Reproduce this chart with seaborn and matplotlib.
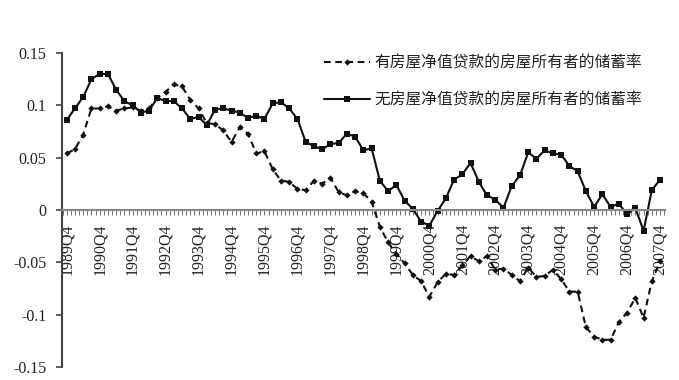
import numpy as np
import pandas as pd
import matplotlib
matplotlib.use("Agg")
import matplotlib.pyplot as plt
from matplotlib.lines import Line2D
import seaborn as sns

# ---------------- data ----------------
years = list(range(1989, 2008))
quarters = []
for y in years:
    for q in (1, 2, 3, 4):
        if y == 1989 and q < 4:
            continue
        quarters.append(f"{y}Q{q}")
quarters = quarters[:73]

tick_labels = [f"{y}Q4" for y in years]

with_heloc = [
    0.054, 0.058, 0.072, 0.097, 0.097, 0.099, 0.095, 0.097, 0.098, 0.095,
    0.097, 0.107, 0.113, 0.120, 0.118, 0.105, 0.097, 0.083, 0.082, 0.076,
    0.065, 0.079, 0.073, 0.054, 0.056, 0.039, 0.028, 0.027, 0.020, 0.019,
    0.028, 0.025, 0.031, 0.017, 0.014, 0.018, 0.016, 0.008, -0.016, -0.031,
    -0.042, -0.051, -0.062, -0.068, -0.083, -0.069, -0.061, -0.062, -0.053, -0.044,
    -0.049, -0.044, -0.057, -0.056, -0.062, -0.068, -0.055, -0.064, -0.063, -0.057,
    -0.066, -0.078, -0.078, -0.112, -0.121, -0.124, -0.124, -0.107, -0.098, -0.084,
    -0.103, -0.068, -0.049,
]

without_heloc = [
    0.086, 0.097, 0.108, 0.125, 0.130, 0.130, 0.115, 0.104, 0.100, 0.093,
    0.095, 0.107, 0.104, 0.104, 0.097, 0.087, 0.089, 0.081, 0.096, 0.097,
    0.095, 0.093, 0.088, 0.090, 0.087, 0.102, 0.103, 0.097, 0.087, 0.065,
    0.061, 0.058, 0.063, 0.064, 0.073, 0.070, 0.057, 0.059, 0.028, 0.018,
    0.024, 0.009, 0.001, -0.011, -0.015, -0.001, 0.011, 0.029, 0.034, 0.045,
    0.027, 0.014, 0.010, 0.002, 0.023, 0.033, 0.055, 0.049, 0.057, 0.054,
    0.053, 0.042, 0.037, 0.018, 0.003, 0.015, 0.003, 0.006, -0.004, 0.002,
    -0.020, 0.019, 0.029,
]

label_with = "有房屋净值贷款的房屋所有者的储蓄率"
label_without = "无房屋净值贷款的房屋所有者的储蓄率"
y_ticks = [0.15, 0.1, 0.05, 0, -0.05, -0.1, -0.15]
y_tick_labels = ["0.15", "0.1", "0.05", "0", "-0.05", "-0.1", "-0.15"]

# ---------------- plot ----------------
sns.set_style("white")
plt.rcParams["font.family"] = ["Liberation Serif", "DejaVu Serif"]

W, H = 679, 380
fig = plt.figure(figsize=(W / 100, H / 100), dpi=100)
ax_left, ax_right = 62, 665
ax_top, ax_bottom = 53, 367
ax = fig.add_axes([ax_left / W, 1 - ax_bottom / H, (ax_right - ax_left) / W, (ax_bottom - ax_top) / H])

df = pd.DataFrame({
    "idx": np.arange(len(quarters)),
    "quarter": quarters,
    "with": with_heloc,
    "without": without_heloc,
})

sns.lineplot(data=df, x="idx", y="with", ax=ax, color="#111111", linewidth=1.5,
             linestyle=(0, (3.2, 2.2)), marker="D", markersize=3.2,
             markeredgewidth=0, sort=False, legend=False)
sns.lineplot(data=df, x="idx", y="without", ax=ax, color="#111111", linewidth=1.5,
             marker="s", markersize=4.6, markeredgewidth=0, sort=False, legend=False)

ax.set_ylim(-0.15, 0.15)
ax.set_xlim(-0.57, 72.6)
ax.set_xlabel("")
ax.set_ylabel("")

# spines first (set_position resets ticks)
for s in ("top", "right"):
    ax.spines[s].set_visible(False)
ax.spines["bottom"].set_position(("data", 0))
ax.spines["bottom"].set_color("#8a8a8a")
ax.spines["bottom"].set_linewidth(1.5)
ax.spines["left"].set_color("#444444")
ax.spines["left"].set_linewidth(1.5)
ax.grid(False)

# y axis
ax.set_yticks(y_ticks)
ax.set_yticklabels(y_tick_labels, fontsize=11.5, color="#222222")
ax.tick_params(axis="y", which="major", direction="out", length=4, width=1.2,
               color="#444444", pad=7, left=True)

# x axis crossing at zero
tick_pos = [quarters.index(t) for t in tick_labels]
ax.set_xticks(tick_pos)
ax.set_xticks(np.arange(-0.5, 72.6, 0.5), minor=True)
ax.tick_params(axis="x", which="both", direction="out", length=3.5, width=0.8,
               color="#777777", bottom=True)
ax.tick_params(axis="x", which="major", pad=6.5, labelrotation=90,
               labelsize=11.5, labelcolor="#222222")
ax.set_xticklabels(tick_labels)

# legend
handles = [
    Line2D([], [], color="#111111", linewidth=1.5, linestyle=(0, (3.2, 2.2)),
           marker="D", markersize=3.2, markeredgewidth=0),
    Line2D([], [], color="#111111", linewidth=1.5, marker="s", markersize=4.6,
           markeredgewidth=0),
]
leg = ax.legend(handles, [label_with, label_without], loc="upper left",
                bbox_to_anchor=(324 / W, 1 - 54 / H), bbox_transform=fig.transFigure,
                frameon=False, borderpad=0, borderaxespad=0, handlelength=2.9,
                handletextpad=0.3, labelspacing=1.3,
                prop={"family": ["Noto Sans CJK SC", "DejaVu Sans"], "size": 11.3})
for t in leg.get_texts():
    t.set_color("#222222")

fig.savefig("out.png", dpi=100, facecolor="white")
